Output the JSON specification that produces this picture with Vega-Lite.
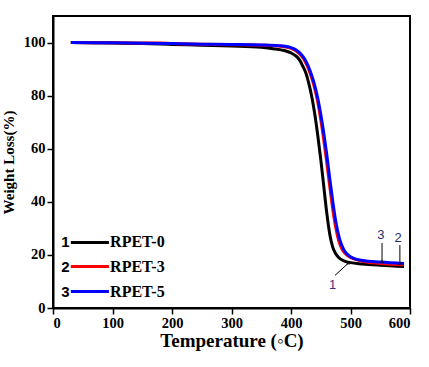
{
  "$schema": "https://vega.github.io/schema/vega-lite/v6.json",
  "autosize": "none",
  "width": 357,
  "height": 292,
  "padding": {"left": 53, "top": 16, "right": 19, "bottom": 59},
  "background": "white",
  "config": {
    "view": {"stroke": "black", "strokeWidth": 2},
    "axis": {
      "domainColor": "black", "domainWidth": 2, "tickColor": "black", "tickWidth": 1.5,
      "labelFont": "Liberation Serif", "labelFontWeight": "bold", "labelFontSize": 14.5, "labelColor": "black",
      "titleFont": "Liberation Serif", "titleFontWeight": "bold", "titleColor": "black", "grid": false
    }
  },
  "datasets": {
    "curves": [
      {"s": "RPET-0", "T": 30, "w": 100}, {"s": "RPET-0", "T": 100, "w": 99.8}, {"s": "RPET-0", "T": 150, "w": 99.6}, {"s": "RPET-0", "T": 200, "w": 99.3}, {"s": "RPET-0", "T": 250, "w": 99.0}, {"s": "RPET-0", "T": 300, "w": 98.7}, {"s": "RPET-0", "T": 350, "w": 98.2}, {"s": "RPET-0", "T": 370, "w": 97.7}, {"s": "RPET-0", "T": 390, "w": 96.9}, {"s": "RPET-0", "T": 400, "w": 96.1}, {"s": "RPET-0", "T": 410, "w": 94.6}, {"s": "RPET-0", "T": 415, "w": 93.2}, {"s": "RPET-0", "T": 420, "w": 91}, {"s": "RPET-0", "T": 425, "w": 88.5}, {"s": "RPET-0", "T": 430, "w": 84.5}, {"s": "RPET-0", "T": 435, "w": 79.5}, {"s": "RPET-0", "T": 440, "w": 73}, {"s": "RPET-0", "T": 445, "w": 65}, {"s": "RPET-0", "T": 450, "w": 56}, {"s": "RPET-0", "T": 455, "w": 46}, {"s": "RPET-0", "T": 460, "w": 36}, {"s": "RPET-0", "T": 465, "w": 28}, {"s": "RPET-0", "T": 470, "w": 23}, {"s": "RPET-0", "T": 475, "w": 20.5}, {"s": "RPET-0", "T": 480, "w": 19}, {"s": "RPET-0", "T": 490, "w": 17.7}, {"s": "RPET-0", "T": 500, "w": 17.1}, {"s": "RPET-0", "T": 520, "w": 16.6}, {"s": "RPET-0", "T": 550, "w": 16.1}, {"s": "RPET-0", "T": 590, "w": 15.6},
      {"s": "RPET-3", "T": 30, "w": 100}, {"s": "RPET-3", "T": 100, "w": 99.9}, {"s": "RPET-3", "T": 180, "w": 99.8}, {"s": "RPET-3", "T": 200, "w": 99.6}, {"s": "RPET-3", "T": 250, "w": 99.4}, {"s": "RPET-3", "T": 300, "w": 99.2}, {"s": "RPET-3", "T": 350, "w": 99.0}, {"s": "RPET-3", "T": 380, "w": 98.7}, {"s": "RPET-3", "T": 400, "w": 97.8}, {"s": "RPET-3", "T": 410, "w": 96.6}, {"s": "RPET-3", "T": 420, "w": 94.2}, {"s": "RPET-3", "T": 425, "w": 92.3}, {"s": "RPET-3", "T": 430, "w": 89.8}, {"s": "RPET-3", "T": 435, "w": 86.5}, {"s": "RPET-3", "T": 440, "w": 82.5}, {"s": "RPET-3", "T": 445, "w": 77.5}, {"s": "RPET-3", "T": 450, "w": 71}, {"s": "RPET-3", "T": 455, "w": 63.5}, {"s": "RPET-3", "T": 460, "w": 55}, {"s": "RPET-3", "T": 465, "w": 46}, {"s": "RPET-3", "T": 470, "w": 37.5}, {"s": "RPET-3", "T": 475, "w": 30.5}, {"s": "RPET-3", "T": 480, "w": 25.5}, {"s": "RPET-3", "T": 485, "w": 22.5}, {"s": "RPET-3", "T": 490, "w": 20.8}, {"s": "RPET-3", "T": 495, "w": 19.7}, {"s": "RPET-3", "T": 500, "w": 19}, {"s": "RPET-3", "T": 520, "w": 17.6}, {"s": "RPET-3", "T": 550, "w": 16.8}, {"s": "RPET-3", "T": 590, "w": 16.3},
      {"s": "RPET-5", "T": 30, "w": 100}, {"s": "RPET-5", "T": 100, "w": 99.9}, {"s": "RPET-5", "T": 200, "w": 99.6}, {"s": "RPET-5", "T": 250, "w": 99.4}, {"s": "RPET-5", "T": 300, "w": 99.3}, {"s": "RPET-5", "T": 350, "w": 99.1}, {"s": "RPET-5", "T": 380, "w": 98.8}, {"s": "RPET-5", "T": 400, "w": 98.1}, {"s": "RPET-5", "T": 410, "w": 97.0}, {"s": "RPET-5", "T": 420, "w": 94.8}, {"s": "RPET-5", "T": 425, "w": 93.0}, {"s": "RPET-5", "T": 430, "w": 90.6}, {"s": "RPET-5", "T": 435, "w": 87.5}, {"s": "RPET-5", "T": 440, "w": 83.8}, {"s": "RPET-5", "T": 445, "w": 79}, {"s": "RPET-5", "T": 450, "w": 73}, {"s": "RPET-5", "T": 455, "w": 66}, {"s": "RPET-5", "T": 460, "w": 58}, {"s": "RPET-5", "T": 465, "w": 49}, {"s": "RPET-5", "T": 470, "w": 40.5}, {"s": "RPET-5", "T": 475, "w": 33}, {"s": "RPET-5", "T": 480, "w": 27.5}, {"s": "RPET-5", "T": 485, "w": 23.8}, {"s": "RPET-5", "T": 490, "w": 21.5}, {"s": "RPET-5", "T": 495, "w": 20.2}, {"s": "RPET-5", "T": 500, "w": 19.3}, {"s": "RPET-5", "T": 520, "w": 17.9}, {"s": "RPET-5", "T": 550, "w": 17.3}, {"s": "RPET-5", "T": 590, "w": 16.8}
    ],
    "legend": [
      {"s": "RPET-0", "n": "1", "xn": 21, "x1": 30, "x2": 94, "xt": 96, "y": 24.7},
      {"s": "RPET-3", "n": "2", "xn": 21, "x1": 30, "x2": 94, "xt": 96, "y": 15.6},
      {"s": "RPET-5", "n": "3", "xn": 21, "x1": 30, "x2": 94, "xt": 96, "y": 6.2}
    ],
    "notes": [
      {"n": "1", "tx": 470, "ty": 8.5, "ax": 474, "ay": 12.3, "bx": 496, "by": 16.8, "c": "#4a2c86"},
      {"n": "3", "tx": 551, "ty": 27.5, "ax": 553, "ay": 24.5, "bx": 553, "by": 17.4, "c": "#1f2f6b"},
      {"n": "2", "tx": 580, "ty": 26.5, "ax": 583, "ay": 23.7, "bx": 583, "by": 16.6, "c": "#1f2f6b"}
    ]
  },
  "layer": [
    {
      "data": {"name": "curves"},
      "mark": {"type": "line", "strokeWidth": 3, "interpolate": "monotone"},
      "encoding": {
        "x": {"field": "T", "type": "quantitative",
          "scale": {"domain": [0, 600], "nice": false},
          "axis": {"values": [0, 50, 100, 150, 200, 250, 300, 350, 400, 450, 500, 550, 600],
            "labelExpr": "datum.value % 100 === 0 ? datum.label : ''",
            "tickSize": {"condition": {"test": "datum.value % 100 === 0", "value": 6}, "value": 3},
            "labelPadding": 2,
            "title": "Temperature (◦C)", "titleFontSize": 19, "titlePadding": 2}},
        "y": {"field": "w", "type": "quantitative",
          "scale": {"domain": [0, 110], "nice": false},
          "axis": {"values": [0, 10, 20, 30, 40, 50, 60, 70, 80, 90, 100],
            "labelExpr": "datum.value % 20 === 0 ? datum.label : ''",
            "tickSize": {"condition": {"test": "datum.value % 20 === 0", "value": 6}, "value": 3},
            "labelPadding": 2,
            "title": "Weight Loss(%)", "titleFontSize": 15, "titlePadding": 7}},
        "color": {"field": "s", "type": "nominal",
          "scale": {"domain": ["RPET-0", "RPET-3", "RPET-5"], "range": ["#000000", "#ff0000", "#0000ff"]},
          "legend": null},
        "order": {"field": "T", "type": "quantitative"}
      }
    },
    {
      "data": {"name": "legend"},
      "mark": {"type": "rule", "strokeWidth": 3},
      "encoding": {
        "x": {"field": "x1", "type": "quantitative"},
        "x2": {"field": "x2"},
        "y": {"field": "y", "type": "quantitative"},
        "color": {"field": "s", "type": "nominal", "legend": null}
      }
    },
    {
      "data": {"name": "legend"},
      "mark": {"type": "text", "font": "Liberation Sans", "fontWeight": "bold", "fontSize": 15, "align": "center", "baseline": "middle", "color": "black"},
      "encoding": {
        "x": {"field": "xn", "type": "quantitative"},
        "y": {"field": "y", "type": "quantitative"},
        "text": {"field": "n"}
      }
    },
    {
      "data": {"name": "legend"},
      "mark": {"type": "text", "font": "Liberation Serif", "fontWeight": "bold", "fontSize": 16, "align": "left", "baseline": "middle", "color": "black"},
      "encoding": {
        "x": {"field": "xt", "type": "quantitative"},
        "y": {"field": "y", "type": "quantitative"},
        "text": {"field": "s"}
      }
    },
    {
      "data": {"name": "notes"},
      "mark": {"type": "rule", "strokeWidth": 1, "color": "black"},
      "encoding": {
        "x": {"field": "ax", "type": "quantitative"},
        "x2": {"field": "bx"},
        "y": {"field": "ay", "type": "quantitative"},
        "y2": {"field": "by"}
      }
    },
    {
      "data": {"name": "notes"},
      "mark": {"type": "point", "shape": "triangle", "filled": true, "size": 14, "color": "black"},
      "encoding": {
        "x": {"field": "bx", "type": "quantitative"},
        "y": {"field": "by", "type": "quantitative"}
      }
    },
    {
      "data": {"name": "notes"},
      "mark": {"type": "text", "font": "Liberation Sans", "fontSize": 13, "align": "center", "baseline": "middle"},
      "encoding": {
        "x": {"field": "tx", "type": "quantitative"},
        "y": {"field": "ty", "type": "quantitative"},
        "text": {"field": "n"},
        "color": {"field": "c", "type": "nominal", "scale": null}
      }
    }
  ]
}
